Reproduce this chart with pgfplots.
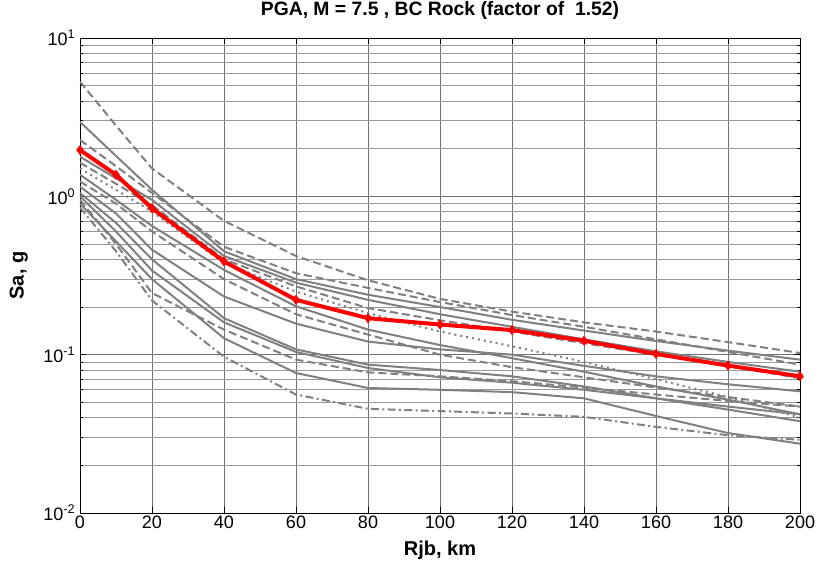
\documentclass[border=0pt]{standalone}
\usepackage{fontspec}
\setmainfont{Liberation Sans}
\usepackage{pgfplots}
\pgfplotsset{compat=1.18}
\definecolor{lg}{RGB}{128,128,128}
\definecolor{rd}{RGB}{255,0,0}
\begin{document}
\begin{tikzpicture}
\begin{axis}[
  scale only axis, width=540pt, height=356.25pt,
  ymode=log, xmin=0, xmax=200, ymin=0.01, ymax=10,
  xtick={0,20,40,60,80,100,120,140,160,180,200},
  xticklabels={0,20,40,60,80,100,120,140,160,180,200},
  ytick={0.01,0.1,1,10},
  yticklabels={10\textsuperscript{-2},10\textsuperscript{-1},10\textsuperscript{0},10\textsuperscript{1}},
  minor ytick={0.02,0.03,0.04,0.05,0.06,0.07,0.08,0.09,0.2,0.3,0.4,0.5,0.6,0.7,0.8,0.9,2,3,4,5,6,7,8,9},
  tick align=inside, major tick length=4.5pt, minor tick length=2.5pt,
  tick style={black, line width=0.5pt},
  grid=both,
  major grid style={line width=0.5pt, color=black!55},
  minor grid style={line width=0.45pt, color=black!40},
  axis line style={black, line width=0.6pt},
  tick label style={font=\fontsize{13.5}{15}\selectfont},
  xticklabel style={yshift=1pt},
  title={PGA, M = 7.5 , BC Rock (factor of\ \ 1.52)},
  title style={font=\bfseries\fontsize{14.5}{16}\selectfont, at={(axis description cs:0.5,1.0295)}, anchor=base, yshift=0pt, inner sep=0pt},
  xlabel={Rjb, km},
  xlabel style={font=\bfseries\fontsize{15}{17}\selectfont, at={(axis description cs:0.5,-0.078)}, anchor=center},
  ylabel={Sa, g},
  ylabel style={font=\bfseries\fontsize{15}{17}\selectfont, at={(axis description cs:-0.085,0.5)}, anchor=center},
  every axis plot/.append style={line join=round},
]
% dashed A
\addplot[lg, line width=1.5pt, dash pattern=on 6pt off 3pt] coordinates {(0,5.3)(10,2.8)(20,1.5)(40,0.70)(60,0.42)(80,0.295)(100,0.225)(120,0.187)(140,0.16)(160,0.14)(180,0.12)(200,0.1025)};
% dashed B
\addplot[lg, line width=1.5pt, dash pattern=on 6pt off 3pt] coordinates {(0,2.27)(10,1.55)(20,1.05)(40,0.48)(60,0.327)(80,0.264)(100,0.215)(120,0.178)(140,0.15)(160,0.125)(180,0.104)(200,0.0865)};
% solid C
\addplot[lg, line width=1.5pt] coordinates {(0,2.95)(10,1.8)(20,1.1)(40,0.45)(60,0.30)(80,0.239)(100,0.2)(120,0.166)(140,0.142)(160,0.122)(180,0.106)(200,0.093)};
% solid D
\addplot[lg, line width=1.5pt] coordinates {(0,1.78)(10,1.3)(20,0.95)(40,0.42)(60,0.285)(80,0.222)(100,0.18)(120,0.15)(140,0.125)(160,0.105)(180,0.09)(200,0.078)};
% dashed E
\addplot[lg, line width=1.5pt, dash pattern=on 6pt off 3pt] coordinates {(0,1.63)(10,1.2)(20,0.88)(40,0.40)(60,0.27)(80,0.197)(100,0.165)(120,0.14)(140,0.118)(160,0.1)(180,0.085)(200,0.071)};
% dotted F
\addplot[lg, line width=1.5pt, dash pattern=on 1.5pt off 3pt] coordinates {(0,1.5)(10,1.1)(20,0.8)(40,0.38)(60,0.25)(80,0.183)(100,0.14)(120,0.113)(140,0.09)(160,0.07)(180,0.054)(200,0.040)};
% solid G
\addplot[lg, line width=1.5pt] coordinates {(0,1.37)(10,0.95)(20,0.65)(40,0.343)(60,0.202)(80,0.144)(100,0.115)(120,0.095)(140,0.078)(160,0.063)(180,0.052)(200,0.042)};
% dashed H
\addplot[lg, line width=1.5pt, dash pattern=on 6pt off 3pt] coordinates {(0,1.24)(10,0.9)(20,0.6)(40,0.30)(60,0.18)(80,0.134)(100,0.1)(120,0.0834)(140,0.072)(160,0.062)(180,0.054)(200,0.047)};
% solid I
\addplot[lg, line width=1.5pt] coordinates {(0,1.15)(10,0.78)(20,0.46)(40,0.233)(60,0.157)(80,0.121)(100,0.108)(120,0.1)(140,0.085)(160,0.073)(180,0.065)(200,0.0587)};
% solid J
\addplot[lg, line width=1.5pt] coordinates {(0,1.05)(10,0.68)(20,0.40)(40,0.17)(60,0.108)(80,0.0865)(100,0.08)(120,0.073)(140,0.063)(160,0.053)(180,0.045)(200,0.038)};
% solid K
\addplot[lg, line width=1.5pt] coordinates {(0,1.0)(10,0.6)(20,0.34)(40,0.16)(60,0.104)(80,0.0824)(100,0.072)(120,0.0665)(140,0.06)(160,0.053)(180,0.047)(200,0.042)};
% dashed L
\addplot[lg, line width=1.5pt, dash pattern=on 6pt off 3pt] coordinates {(0,0.95)(10,0.5)(20,0.245)(40,0.144)(60,0.093)(80,0.0773)(100,0.073)(120,0.068)(140,0.062)(160,0.056)(180,0.051)(200,0.047)};
% solid M
\addplot[lg, line width=1.5pt] coordinates {(0,0.9)(10,0.52)(20,0.30)(40,0.127)(60,0.0766)(80,0.0616)(100,0.06)(120,0.058)(140,0.053)(160,0.041)(180,0.032)(200,0.0274)};
% dash-dot N
\addplot[lg, line width=1.5pt, dash pattern=on 6pt off 2.5pt on 1.5pt off 2.5pt] coordinates {(0,0.85)(10,0.45)(20,0.22)(40,0.097)(60,0.056)(80,0.0455)(100,0.044)(120,0.0425)(140,0.0405)(160,0.035)(180,0.031)(200,0.029)};
% red
\addplot[rd, line width=3pt, mark=diamond*, mark size=3.4pt, mark options={solid, fill=rd, draw=rd, line width=0.5pt}] coordinates {(0,1.96)(10,1.37)(20,0.84)(40,0.388)(60,0.222)(80,0.170)(100,0.155)(120,0.143)(140,0.1225)(160,0.101)(180,0.0853)(200,0.073)};
\end{axis}
\pgfresetboundingbox
\path (-60pt,-39.75pt) rectangle (562.5pt,384.75pt);
\end{tikzpicture}
\end{document}
